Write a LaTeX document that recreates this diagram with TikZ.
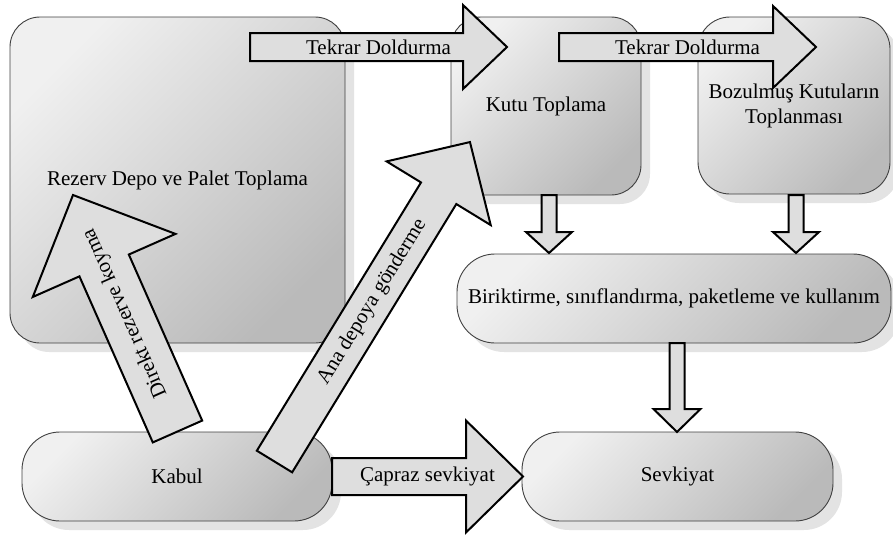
\documentclass[tikz,border=0pt]{standalone}
\usepackage{fontspec}
\setmainfont{Liberation Serif}
\usetikzlibrary{calc,shadows}

\tikzset{
  box/.style={draw=black!75, line width=0.9pt,
    top color=black!6, bottom color=black!27, shading angle=45,
    inner sep=2pt, align=center, font=\fontsize{21}{25}\selectfont,
    drop shadow={shadow xshift=9pt, shadow yshift=-9pt, fill=black!11, opacity=1}},
  blockarrow/.style={draw=black, line width=2pt, fill=black!13, line join=miter},
  arrowlabel/.style={font=\fontsize{21}{24}\selectfont, inner sep=0pt},
}

% \blockarrow{tail}{tip}{shaft half width}{head half width}{head length}{label name}{label}
\newcommand\blockarrow[7]{%
  \path let \p1=(#1), \p2=(#2) in \pgfextra{%
    \pgfmathsetmacro\baAng{atan2(\y2-\y1,\x2-\x1)}%
    \pgfmathsetmacro\baLen{veclen(\x2-\x1,\y2-\y1)}%
    \global\let\baAng\baAng
    \global\let\baLen\baLen};
  \begin{scope}[shift={(#1)}, rotate=\baAng]
    \draw[blockarrow] (0,-#3) -- ({\baLen-#5},-#3) -- ({\baLen-#5},-#4)
      -- (\baLen,0) -- ({\baLen-#5},#4) -- ({\baLen-#5},#3) -- (0,#3) -- cycle;
  \end{scope}
  \def\balabel{#7}%
  \ifx\balabel\empty\else
    \node[arrowlabel, rotate=\baAng] (#6) at ($(#1)!0.5!(#2)$) {#7};
  \fi
}

\begin{document}
\begin{tikzpicture}[x=1pt, y=-1pt]
  \useasboundingbox (0,0) rectangle (893,536);

  % process boxes
  \node[box, rounded corners=30pt, minimum width=335pt, minimum height=326pt]
    (rez) at (177.5,180) {Rezerv Depo ve Palet Toplama};
  \node[box, rounded corners=30pt, minimum width=190pt, minimum height=178pt]
    (kutu) at (546,106) {Kutu Toplama};
  \node[box, rounded corners=32pt, minimum width=192pt, minimum height=177pt]
    (boz) at (794,105.5) {Bozulmuş Kutuların\\Toplanması};
  \node[box, rounded corners=38pt, minimum width=434pt, minimum height=89pt]
    (bir) at (674,298.5) {Biriktirme, sınıflandırma, paketleme ve kullanım};
  \node[box, rounded corners=38pt, minimum width=311pt, minimum height=89pt]
    (sev) at (677.5,476.5) {Sevkiyat};
  \node[box, rounded corners=38pt, minimum width=310pt, minimum height=89pt]
    (kab) at (177,476.5) {Kabul};

  % arrow end points
  \coordinate (a1s) at (250,47);    \coordinate (a1e) at (507,47);
  \coordinate (a2s) at (559,47);    \coordinate (a2e) at (816,47);
  \coordinate (cs)  at (332,476.5); \coordinate (ce)  at (523,476.5);
  \coordinate (ds)  at (177.5,431.5); \coordinate (de) at (73,195);
  \coordinate (as)  at (274.5,461.5); \coordinate (ae) at (470,142);
  \coordinate (fs)  at (549,195);   \coordinate (fe)  at (549,253);
  \coordinate (gs)  at (796,195);   \coordinate (ge)  at (796,253);
  \coordinate (hs)  at (677,343);   \coordinate (he)  at (677,432);

  % block arrows
  \blockarrow{a1s}{a1e}{14}{42}{44}{l1}{Tekrar Doldurma}
  \blockarrow{a2s}{a2e}{14}{41}{43}{l2}{Tekrar Doldurma}
  \blockarrow{cs}{ce}{18.5}{56}{57}{l3}{Çapraz sevkiyat}
  \blockarrow{ds}{de}{27}{78}{77}{l4}{Direkt rezerve koyma}
  \blockarrow{as}{ae}{20.7}{61}{60}{l5}{Ana depoya gönderme}
  \blockarrow{fs}{fe}{7.5}{23}{21}{l6}{}
  \blockarrow{gs}{ge}{7.5}{23}{21}{l7}{}
  \blockarrow{hs}{he}{7.5}{23.5}{23}{l8}{}
\end{tikzpicture}
\end{document}
